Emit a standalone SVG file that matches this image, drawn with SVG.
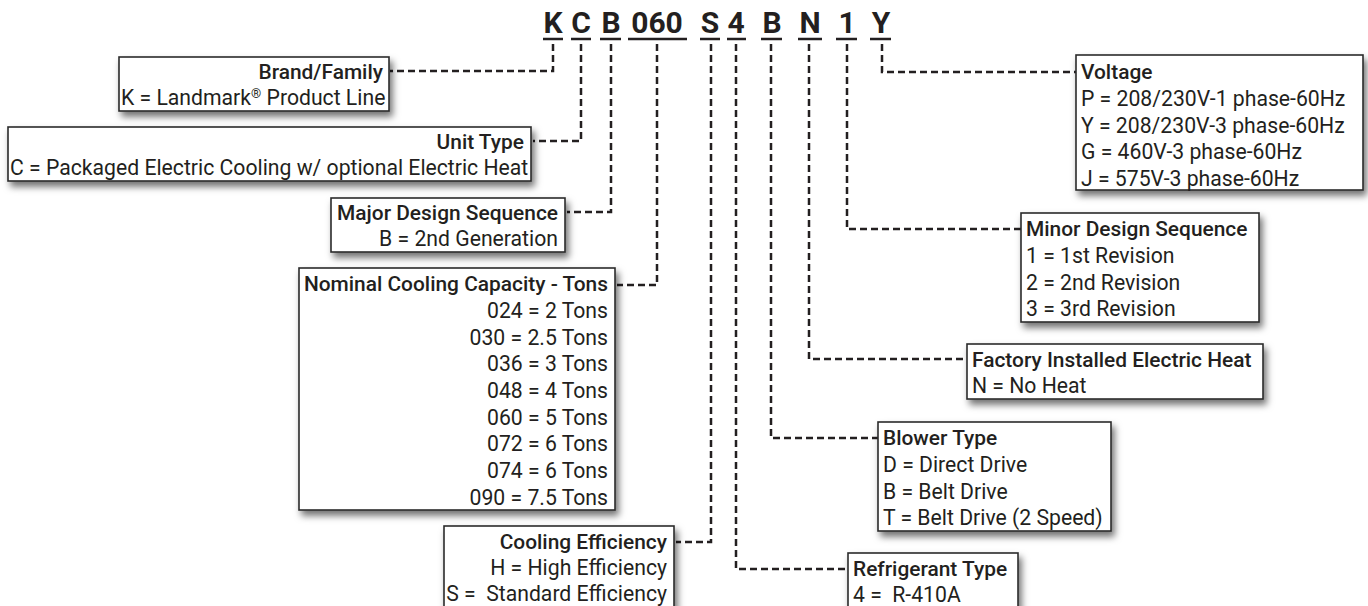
<svg xmlns="http://www.w3.org/2000/svg" width="1368" height="606" viewBox="0 0 1368 606">
<defs>
<filter id="sh" x="-10%" y="-20%" width="130%" height="150%">
<feDropShadow dx="3" dy="5" stdDeviation="3.5" flood-color="#000" flood-opacity="0.55"/>
</filter>
<style>
.box{fill:#fff;stroke:#2b2b2b;stroke-width:1.6;filter:url(#sh)}
.t{font-family:Roboto,"Liberation Sans",sans-serif;font-size:21.2px;fill:#231f20}
.h{font-weight:500;font-size:20.9px}
.e{text-anchor:end}
.code{font-family:Roboto,"Liberation Sans",sans-serif;font-size:30px;font-weight:700;fill:#231f20;text-anchor:middle}
.ul{stroke:#231f20;stroke-width:2.5}
.c{fill:none;stroke:#231f20;stroke-width:2.5;stroke-dasharray:7 4}
</style>
</defs>
<rect width="1368" height="606" fill="#fff"/>
<g id="model-code">
<text class="code" x="553" y="33">K</text>
<text class="code" x="581" y="33">C</text>
<text class="code" x="611" y="33">B</text>
<text class="code" x="657" y="33">060</text>
<text class="code" x="710" y="33">S</text>
<text class="code" x="736" y="33">4</text>
<text class="code" x="772" y="33">B</text>
<text class="code" x="810" y="33">N</text>
<text class="code" x="847" y="33">1</text>
<text class="code" x="881" y="33">Y</text>
<path class="ul" d="M543,39H563M571,39H591M600,39H621M628,39H687M700,39H720M727,39H746M761,39H782M798,39H822M836,39H857M870,39H891"/>
</g>
<g id="connectors">
<path class="c" d="M553,44V71H390"/>
<path class="c" d="M581,44V141H533"/>
<path class="c" d="M611,44V212H567"/>
<path class="c" d="M657,44V285H617"/>
<path class="c" d="M711,44V542H676"/>
<path class="c" d="M736,44V569H848"/>
<path class="c" d="M771,44V438H878"/>
<path class="c" d="M809,44V359H967"/>
<path class="c" d="M847,44V229H1021"/>
<path class="c" d="M882,44V72H1076"/>
</g>
<g id="brand">
<rect class="box" x="119" y="57" width="270" height="54"/>
<text class="t h e" x="383" y="79">Brand/Family</text>
<text class="t" x="121" y="105">K = Landmark<tspan font-size="13" dy="-7">®</tspan><tspan dy="7"> Product Line</tspan></text>
</g>
<g id="unit-type">
<rect class="box" x="8" y="127" width="523" height="54"/>
<text class="t h e" x="524" y="149">Unit Type</text>
<text class="t" x="10" y="175">C = Packaged Electric Cooling w/ optional Electric Heat</text>
</g>
<g id="major-design">
<rect class="box" x="331" y="198" width="234" height="54"/>
<text class="t h e" x="558" y="220">Major Design Sequence</text>
<text class="t e" x="558" y="246">B = 2nd Generation</text>
</g>
<g id="capacity">
<rect class="box" x="299" y="268" width="316" height="242"/>
<text class="t h e" x="608" y="291">Nominal Cooling Capacity - Tons</text>
<text class="t e" x="608" y="318">024 = 2 Tons</text>
<text class="t e" x="608" y="344.7">030 = 2.5 Tons</text>
<text class="t e" x="608" y="371.3">036 = 3 Tons</text>
<text class="t e" x="608" y="398">048 = 4 Tons</text>
<text class="t e" x="608" y="424.7">060 = 5 Tons</text>
<text class="t e" x="608" y="451.3">072 = 6 Tons</text>
<text class="t e" x="608" y="478">074 = 6 Tons</text>
<text class="t e" x="608" y="504.7">090 = 7.5 Tons</text>
</g>
<g id="efficiency">
<rect class="box" x="444" y="526" width="230" height="84"/>
<text class="t h e" x="667" y="549">Cooling Efficiency</text>
<text class="t e" x="667" y="575">H = High Efficiency</text>
<text class="t e" x="667" y="601">S =&#160; Standard Efficiency</text>
</g>
<g id="voltage">
<rect class="box" x="1076" y="55" width="287" height="135"/>
<text class="t h" x="1081" y="79">Voltage</text>
<text class="t" x="1081" y="106">P = 208/230V-1 phase-60Hz</text>
<text class="t" x="1081" y="132.7">Y = 208/230V-3 phase-60Hz</text>
<text class="t" x="1081" y="159.3">G = 460V-3 phase-60Hz</text>
<text class="t" x="1081" y="186">J = 575V-3 phase-60Hz</text>
</g>
<g id="minor-design">
<rect class="box" x="1021" y="213" width="238" height="109"/>
<text class="t h" x="1026" y="236">Minor Design Sequence</text>
<text class="t" x="1026" y="263">1 = 1st Revision</text>
<text class="t" x="1026" y="289.5">2 = 2nd Revision</text>
<text class="t" x="1026" y="316">3 = 3rd Revision</text>
</g>
<g id="electric-heat">
<rect class="box" x="967" y="344" width="296" height="55"/>
<text class="t h" x="972" y="367">Factory Installed Electric Heat</text>
<text class="t" x="972" y="393">N = No Heat</text>
</g>
<g id="blower">
<rect class="box" x="878" y="422" width="233" height="109"/>
<text class="t h" x="883" y="445">Blower Type</text>
<text class="t" x="883" y="472">D = Direct Drive</text>
<text class="t" x="883" y="498.5">B = Belt Drive</text>
<text class="t" x="883" y="525">T = Belt Drive (2 Speed)</text>
</g>
<g id="refrigerant">
<rect class="box" x="848" y="553" width="170" height="58"/>
<text class="t h" x="853" y="576">Refrigerant Type</text>
<text class="t" x="853" y="602">4 =&#160; R-410A</text>
</g>
</svg>
